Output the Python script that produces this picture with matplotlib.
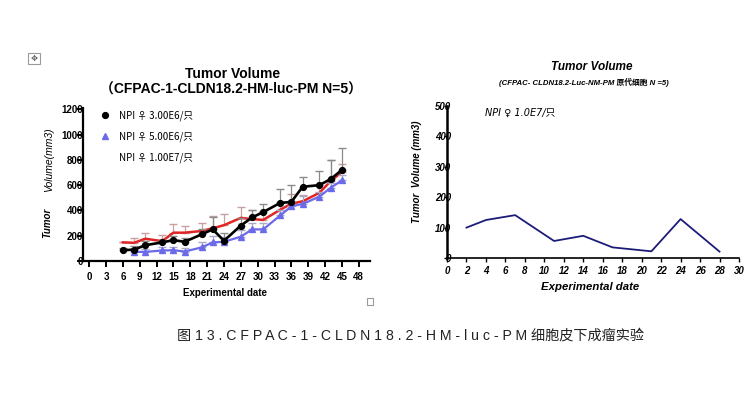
import matplotlib
matplotlib.use("Agg")
import matplotlib.pyplot as plt
from matplotlib.lines import Line2D
from matplotlib.patches import Rectangle

# left panel: CFPAC-1-CLDN18.2-HM-luc-PM, three inoculation doses
days_a = [6, 8, 10, 13, 15, 17, 20, 22, 24, 27, 29, 31, 34, 36, 38, 41, 43, 45]
vol_3e6 = [85, 90, 125, 147, 165, 152, 210, 250, 160, 280, 344, 387, 459, 467, 587, 600, 648, 720]
err_3e6 = [20, 25, 30, 20, 30, 30, 45, 100, 60, 60, 60, 65, 110, 135, 80, 110, 150, 170]
days_b = [8, 10, 13, 15, 17, 20, 22, 24, 27, 29, 31, 34, 36, 38, 41, 43, 45]
vol_5e6 = [72, 72, 83, 85, 75, 107, 147, 152, 192, 250, 250, 360, 432, 451, 509, 579, 637]
err_5e6 = [20, 20, 25, 25, 30, 40, 50, 40, 50, 50, 50, 40, 40, 60, 40, 40, 40]
vol_1e7 = [147, 144, 176, 157, 224, 224, 237, 259, 283, 341, 331, 325, 405, 453, 472, 539, 632, 704]
err_1e7 = [0, 40, 45, 50, 65, 55, 60, 95, 90, 85, 70, 70, 60, 80, 50, 60, 165, 60]
labels_a = ["NPI ♀ 3.00E6/只", "NPI ♀ 5.00E6/只", "NPI ♀ 1.00E7/只"]

# right panel: primary cells, single dose
days_c = [2, 4, 7, 11, 14, 17, 21, 24, 28]
vol_c = [100, 125, 141, 56, 73, 35, 22, 128, 21]
label_c = "NPI ♀ 1.0E7/只"

FONT = ["Liberation Sans", "DejaVu Sans", "Noto Sans CJK SC"]
CJK = ["Noto Sans CJK SC", "DejaVu Sans"]
plt.rcParams["font.family"] = FONT

fig = plt.figure(figsize=(7.56, 3.93), dpi=100)

# ---- left chart ----
ax = fig.add_axes([0.1098, 0.3359, 0.3796, 0.3893])
ax.errorbar(days_a, vol_1e7, yerr=[[0] * len(err_1e7), err_1e7], color="#e02525", lw=1.8,
            ecolor="#c9a0a0", elinewidth=0.9, capsize=3, zorder=2)
ax.errorbar(days_b, vol_5e6, yerr=[[0] * len(err_5e6), err_5e6], color="#6b6bea", lw=1.6,
            marker="^", ms=3.8, ecolor="#a8a8c8", elinewidth=0.9, capsize=3, zorder=3)
ax.errorbar(days_a, vol_3e6, yerr=[[0] * len(err_3e6), err_3e6], color="black", lw=1.9,
            marker="o", ms=4.2, ecolor="#8a8a8a", elinewidth=0.9, capsize=3, zorder=4)
ax.set_xlim(-1.1, 50)
ax.set_ylim(0, 1210)
ax.set_xticks(range(0, 49, 3))
ax.set_yticks(range(0, 1201, 200))
for s in ["top", "right"]:
    ax.spines[s].set_visible(False)
for s in ["left", "bottom"]:
    ax.spines[s].set_linewidth(1.6)
ax.tick_params(axis="x", length=4, width=1.4, labelsize=7, pad=4)
ax.tick_params(axis="y", length=4, width=1.4, labelsize=7, pad=-4)
for t in ax.get_xticklabels() + ax.get_yticklabels():
    t.set_fontweight("bold")

handles = [Line2D([], [], color="black", marker="o", ls="", ms=4.2),
           Line2D([], [], color="#6b6bea", marker="^", ls="", ms=3.8),
           Line2D([], [], color="none", ls="")]
ax.legend(handles, labels_a, loc="upper left", bbox_to_anchor=(0.03, 1.04), frameon=False,
          handlelength=1.0, handletextpad=0.9, labelspacing=1.05,
          prop={"family": CJK, "size": 7})

fig.text(0.307, 0.812, "Tumor Volume", ha="center", va="center", fontsize=10, fontweight="bold")
fig.text(0.305, 0.773, "（CFPAC-1-CLDN18.2-HM-luc-PM N=5）", ha="center", va="center",
         fontsize=10, fontweight="bold", family=["Liberation Sans", "Noto Sans CJK SC"])
fig.text(0.298, 0.255, "Experimental date", ha="center", va="center", fontsize=7, fontweight="bold")
fig.text(0.062, 0.432, "Tumor", ha="center", va="center", rotation=90, fontsize=7,
         fontstyle="italic", fontweight="bold")
fig.text(0.065, 0.593, "Volume(mm3)", ha="center", va="center", rotation=90, fontsize=7.5,
         fontstyle="italic")

# ---- right chart ----
bx = fig.add_axes([0.5913, 0.3435, 0.3862, 0.3868])
bx.plot(days_c, vol_c, color="#1c1c78", lw=1.3)
bx.set_xlim(0, 30)
bx.set_ylim(0, 500)
bx.set_xticks(range(0, 31, 2))
bx.set_yticks(range(0, 501, 100))
for s in ["top", "right"]:
    bx.spines[s].set_visible(False)
bx.spines["left"].set_linewidth(1.8)
bx.spines["bottom"].set_linewidth(1.2)
bx.tick_params(axis="x", length=3, width=1.0, labelsize=7, pad=3)
bx.tick_params(axis="y", length=2, width=1.0, labelsize=7, pad=-5)
for t in bx.get_xticklabels() + bx.get_yticklabels():
    t.set_fontweight("bold")
    t.set_fontstyle("italic")
bx.text(0.13, 0.955, label_c, transform=bx.transAxes, ha="left", va="center", fontsize=7,
        fontstyle="italic", family=["DejaVu Sans", "Noto Sans CJK SC"])

fig.text(0.783, 0.829, "Tumor Volume", ha="center", va="center", fontsize=8.5,
         fontweight="bold", fontstyle="italic")
fig.text(0.7725, 0.789, "(CFPAC- CLDN18.2-Luc-NM-PM 原代细胞 N =5)", ha="center", va="center",
         fontsize=5.6, fontweight="bold", fontstyle="italic", family=FONT)
fig.text(0.780, 0.270, "Experimental date", ha="center", va="center", fontsize=8.2,
         fontweight="bold", fontstyle="italic")
fig.text(0.551, 0.562, "Tumor  Volume (mm3)", ha="center", va="center",
         rotation=90, fontsize=7, fontweight="bold", fontstyle="italic")

# ---- caption ----
fig.text(0.543, 0.145, "图 1 3 . C F P A C - 1 - C L D N 1 8 . 2 - H M - l u c - P M 细胞皮下成瘤实验",
         ha="center", va="center", fontsize=10.2, color="#222222",
         family=["Liberation Sans", "Noto Sans CJK SC"])

# Word layout handles (move anchor and corner box)
fig.add_artist(Rectangle((0.0375, 0.838), 0.0155, 0.028, transform=fig.transFigure,
                         fill=False, ec="#9a9a9a", lw=0.8))
fig.text(0.0453, 0.852, "✥", ha="center", va="center", fontsize=6, color="#555555",
         family="DejaVu Sans")
fig.add_artist(Rectangle((0.485, 0.225), 0.009, 0.017, transform=fig.transFigure,
                         fill=False, ec="#9a9a9a", lw=0.8))

fig.savefig("out.png", dpi=100)
